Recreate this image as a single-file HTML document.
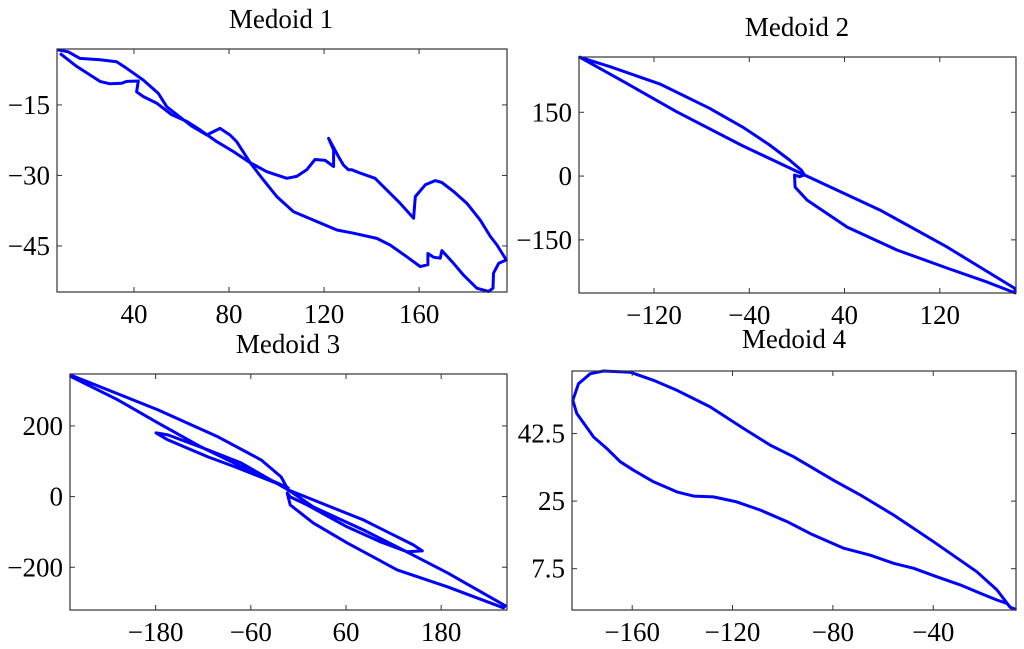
<!DOCTYPE html>
<html><head><meta charset="utf-8">
<style>
html,body{margin:0;padding:0;background:#fff;}
svg{display:block;}
text{font-family:"Liberation Serif",serif;font-size:27px;fill:#000;}
</style></head>
<body>
<svg id="fig" width="1024" height="649" viewBox="0 0 1024 649" xmlns="http://www.w3.org/2000/svg"></svg>
<script>
// Medoid 1 data
const m1X = [8.1,12.3,17.3,25.7,32.7,36.9,43.9,50.2,53.8,59.4,64.3,70.6,76.2,80.4,83.2,88.9,94.5,100.1,107.1,116.9,125.4,132.4,142.2,147.8,154.8,160.5,163.7,163.7,166.1,168.9,169.6,174.5,178.7,184.3,189.2,191.1,191.3,193.5,196.7,192.8,190.0,185.7,180.1,174.5,169.6,166.8,162.6,158.4,157.7,152.0,145.0,141.5,135.2,131.7,130.3,128.2,126.1,121.9,124.0,124.0,120.5,116.2,112.7,108.5,104.3,95.9,88.9,81.8,74.8,67.8,62.2,55.9,49.5,43.9,41.1,41.8,36.9,34.8,29.9,25.7,15.9,9.3];
const m1Y = [-3.3,-3.7,-5.1,-5.4,-5.8,-7.2,-9.7,-12.5,-15.4,-17.6,-19.5,-21.4,-20.0,-21.4,-22.8,-27.3,-31.0,-34.5,-37.7,-39.8,-41.6,-42.3,-43.4,-44.8,-47.3,-49.4,-49.0,-46.6,-47.4,-47.6,-46.0,-48.7,-51.2,-54.0,-54.7,-54.0,-50.8,-48.7,-48.0,-44.8,-43.0,-39.5,-35.9,-33.4,-31.5,-31.1,-32.0,-34.5,-39.1,-35.9,-32.4,-30.6,-29.5,-28.8,-28.8,-27.8,-26.0,-22.1,-24.6,-28.1,-26.8,-26.6,-28.8,-30.2,-30.6,-29.2,-27.3,-24.9,-22.8,-20.3,-18.5,-17.1,-14.6,-13.2,-12.2,-9.9,-10.0,-10.4,-10.5,-10.0,-6.8,-4.2];
const m1XTicks = [40,80,120,160];
const m1YTicks = [-15,-30,-45];
// Medoid 2 data
const m2X = [-182.4,-157.2,-115.2,-73.3,-45.3,-22.9,-6.2,3.6,6.4,2.2,-2.0,-1.5,8.6,42.2,84.2,126.2,159.8,183.2,183.2,126.2,69.9,6.4,-45.3,-101.3,-143.2,-182.4];
const m2Y = [279.5,257.5,216.7,159.4,114.7,73.1,37.7,14.2,2.4,-1.5,2.4,-25.9,-56.5,-120.0,-174.1,-216.5,-249.4,-274.7,-264.5,-167.1,-80.0,2.4,70.7,151.6,218.3,279.5];
const m2XTicks = [-120,-40,40,120];
const m2YTicks = [150,0,-150];
// Medoid 3 data
const m3X = [-287,-177.1,-101.3,-47.0,-21.8,-12.9,18.6,81.8,144.9,156.2,137.3,103.2,61.5,11.0,-10.4,-14.2,-10.4,18.6,61.5,124.6,187.8,258.5,261.0,187.8,124.6,81.8,18.6,-12.9,-72.3,-114.0,-164.5,-179.6,-164.5,-114.0,-79.9,-12.9,-63.5,-122.8,-177.1,-227.6,-287];
const m3Y = [344,245.3,168.9,103.8,55.7,19.0,-9.3,-65.9,-136.6,-153.6,-156.4,-128.1,-85.7,-23.5,-0.8,10.5,-23.5,-74.4,-131.0,-207.4,-255.4,-314.9,-309.2,-215.8,-142.3,-94.2,-29.1,19.0,95.3,132.1,174.5,180.2,160.4,112.3,84.0,24.6,75.5,140.6,208.5,273.6,340];
const m3XTicks = [-180,-60,60,180];
const m3YTicks = [200,0,-200];
// Medoid 4 data
const m4X = [-9.3,-14.6,-22.6,-39.9,-55.8,-69.1,-79.7,-95.7,-105.0,-115.6,-128.9,-142.2,-151.5,-160.8,-171.4,-176.7,-181.4,-183.7,-182.1,-175.4,-170.1,-164.8,-159.5,-151.5,-142.2,-135.5,-127.6,-118.3,-109.0,-98.3,-89.0,-75.7,-65.1,-55.8,-47.8,-38.5,-29.2,-22.6,-14.6,-10.6,-9.3,-7.3];
const m4Y = [-2.5,2.0,6.7,14.5,21.4,26.6,30.4,36.5,39.5,43.8,49.4,53.7,56.3,58.4,58.7,58.0,55.4,51.1,47.7,41.6,38.6,35.2,33.0,30.0,27.4,26.3,26.1,24.8,22.7,19.7,16.6,12.8,11.0,8.9,7.6,5.4,3.3,1.5,-0.6,-1.5,-2.5,-3.0];
const m4XTicks = [-160,-120,-80,-40];
const m4YTicks = [42.5,25,7.5];

const NS = "http://www.w3.org/2000/svg";
const fig = document.getElementById('fig');
function mk(tag, attrs, parent){
  const e = document.createElementNS(NS, tag);
  for (const k in attrs) e.setAttribute(k, attrs[k]);
  parent.appendChild(e);
  return e;
}
const panels = [
  {id:1, box:[57,49,507,292], xd:[7.6,197], yd:[-3.1,-54.8], xs:m1X, ys:m1Y, xt:m1XTicks, yt:m1YTicks, title:"Medoid 1", tx:281, ty:28},
  {id:2, box:[579,57,1016,293], xd:[-183,184], yd:[280,-275], xs:m2X, ys:m2Y, xt:m2XTicks, yt:m2YTicks, title:"Medoid 2", tx:797, ty:36},
  {id:3, box:[70,374,507,610], xd:[-288,263], yd:[347,-321], xs:m3X, ys:m3Y, xt:m3XTicks, yt:m3YTicks, title:"Medoid 3", tx:288, ty:353},
  {id:4, box:[572,371,1016,610], xd:[-184,-7], yd:[58.7,-3.2], xs:m4X, ys:m4Y, xt:m4XTicks, yt:m4YTicks, title:"Medoid 4", tx:794, ty:348}
];
function fmt(v){ return (v<0?'\u2212':'') + Math.abs(v); }
panels.forEach(p=>{
  const [x0,y0,x1,y1] = p.box;
  const sx = v => x0 + (v - p.xd[0])/(p.xd[1]-p.xd[0])*(x1-x0);
  const sy = v => y0 + (v - p.yd[0])/(p.yd[1]-p.yd[0])*(y1-y0);
  const g = mk('g', {}, fig);
  
  
  const t = mk('text', {x:p.tx, y:p.ty, 'text-anchor':'middle'}, g);
  t.textContent = p.title;
  
  
  const clipId = 'clip' + p.id;
  const cp = mk('clipPath', {id:clipId}, g);
  mk('rect', {x:x0-2, y:y0-2, width:x1-x0+4, height:y1-y0+4}, cp);
  let d = '';
  p.xs.forEach((v,i)=>{ d += (i?'L':'M') + sx(v).toFixed(1) + ' ' + sy(p.ys[i]).toFixed(1); });
  const path = mk('path', {d:d, fill:'none', stroke:'#0000ff', 'stroke-width':3, 'stroke-linejoin':'round', 'stroke-linecap':'round', 'clip-path':'url(#'+clipId+')'}, g);
  
  
  p.xt.forEach(v=>{
    const x = sx(v);
    mk('line', {x1:x, y1:y1, x2:x, y2:y1-5, stroke:'#333', 'stroke-width':1}, g);
    mk('line', {x1:x, y1:y0, x2:x, y2:y0+5, stroke:'#333', 'stroke-width':1}, g);
    const lt = mk('text', {x:x, y:y1+31, 'text-anchor':'middle'}, g);
    lt.textContent = fmt(v);
    
    
  });
  p.yt.forEach(v=>{
    const y = sy(v);
    mk('line', {x1:x0, y1:y, x2:x0+5, y2:y, stroke:'#333', 'stroke-width':1}, g);
    mk('line', {x1:x1, y1:y, x2:x1-5, y2:y, stroke:'#333', 'stroke-width':1}, g);
    const lt = mk('text', {x:x0-7, y:y+9, 'text-anchor':'end'}, g);
    lt.textContent = fmt(v);
    
    
  });
  const r = mk('rect', {x:x0, y:y0, width:x1-x0, height:y1-y0, fill:'none', stroke:'#333', 'stroke-width':1.2}, g);
  
  
});
</script>
</body></html>
